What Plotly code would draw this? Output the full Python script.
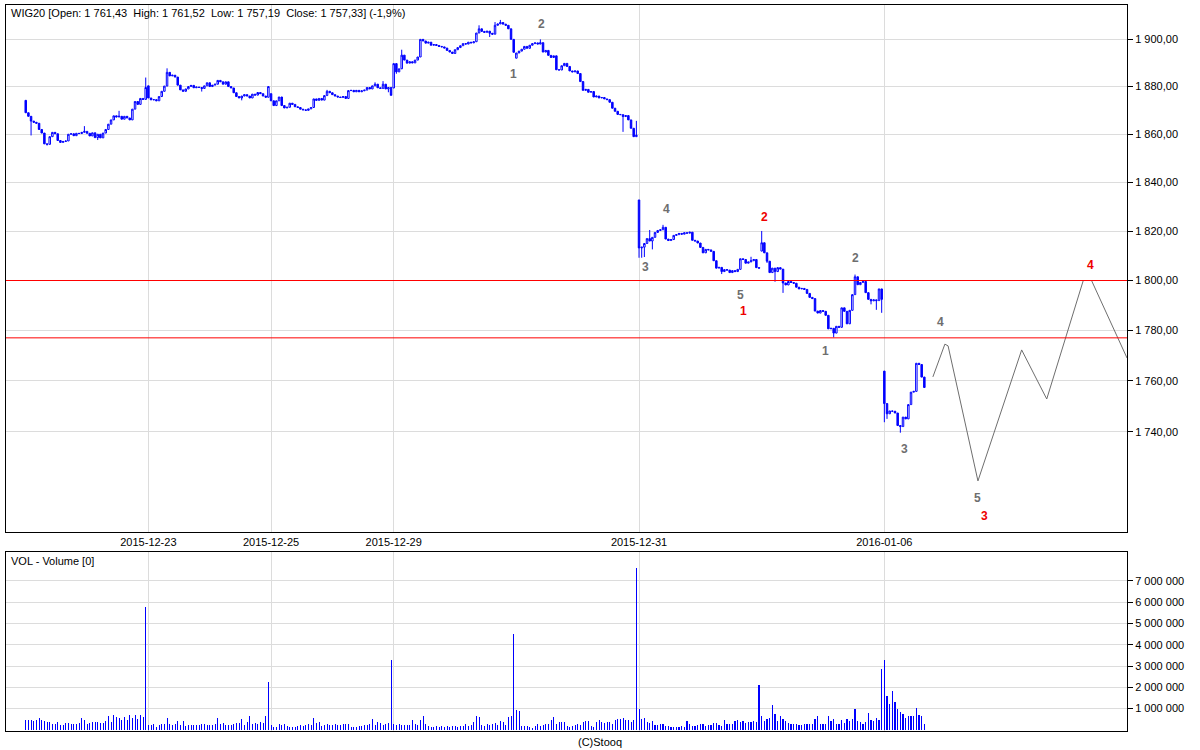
import math
import plotly.graph_objects as go

# ---------------- data ----------------
DAY_LEN = 46          # 10-minute bars per session
FIRST_SLOT = 7        # slot of the very first bar on the x scale
X_SLOTS = 420         # slots visible on the x axis

date_labels = ["2015-12-23", "2015-12-25", "2015-12-29", "2015-12-31", "2016-01-06"]
date_label_days = [1, 2, 3, 5, 7]

day_open = [1874.2, 1880.3, 1877.0, 1879.4, 1892.0, 1832.8, 1811.9, 1763.8]

close_d1 = [1869.0, 1867.5, 1865.5, 1865.0, 1864.6, 1862.0, 1860.5, 1856.0, 1855.8, 1859.0,
            1860.8, 1860.2, 1857.4, 1856.6, 1857.0, 1857.2, 1860.0, 1860.2, 1859.4, 1860.4,
            1860.3, 1860.8, 1861.2, 1860.4, 1859.3, 1860.6, 1858.6, 1860.0, 1858.5, 1860.5,
            1862.0, 1864.2, 1866.0, 1867.7, 1867.2, 1867.5, 1866.3, 1867.5, 1866.8, 1866.0,
            1870.5, 1873.7, 1872.5, 1875.0, 1874.6, 1879.6]
close_d2 = [1875.2, 1874.4, 1874.5, 1874.0, 1875.8, 1878.0, 1880.2, 1886.0, 1884.5, 1884.8,
            1884.0, 1880.6, 1878.6, 1878.0, 1879.0, 1880.0, 1880.5, 1879.5, 1879.8, 1879.6,
            1879.2, 1880.3, 1881.6, 1880.0, 1880.6, 1881.0, 1882.6, 1882.0, 1881.0, 1882.0,
            1880.0, 1879.4, 1877.4, 1875.8, 1875.2, 1876.0, 1876.6, 1876.0, 1875.2, 1876.8,
            1876.4, 1877.5, 1877.0, 1876.0, 1875.5, 1880.0]
close_d3 = [1874.0, 1872.0, 1874.0, 1875.6, 1872.0, 1871.0, 1871.3, 1873.0, 1872.5, 1871.5,
            1871.2, 1870.5, 1870.2, 1870.0, 1870.6, 1871.2, 1874.8, 1874.2, 1875.0, 1874.3,
            1876.2, 1878.0, 1877.4, 1876.6, 1876.0, 1875.6, 1875.4, 1875.8, 1875.0, 1878.3,
            1878.4, 1877.8, 1878.4, 1877.8, 1878.2, 1878.5, 1879.6, 1879.0, 1880.3, 1881.0,
            1879.5, 1879.2, 1881.0, 1879.0, 1879.6, 1876.3]
close_d4 = [1889.7, 1886.2, 1887.5, 1893.3, 1891.2, 1889.9, 1890.5, 1890.0, 1891.2, 1892.5,
            1900.0, 1899.3, 1898.4, 1898.8, 1897.5, 1897.8, 1897.4, 1897.0, 1896.8, 1896.3,
            1895.3, 1894.6, 1894.0, 1895.6, 1896.5, 1897.3, 1898.2, 1898.0, 1898.8, 1898.5,
            1899.0, 1902.7, 1904.5, 1903.4, 1903.0, 1903.5, 1902.6, 1902.2, 1906.0, 1906.6,
            1907.2, 1906.5, 1906.0, 1904.5, 1900.0, 1894.5]
close_d5 = [1894.2, 1895.0, 1895.8, 1897.0, 1896.2, 1897.5, 1898.2, 1898.5, 1898.0, 1898.6,
            1894.6, 1895.3, 1893.2, 1892.3, 1893.0, 1887.1, 1887.0, 1888.8, 1889.8, 1888.5,
            1886.6, 1886.2, 1886.6, 1885.5, 1882.1, 1878.4, 1878.8, 1877.6, 1877.9, 1875.6,
            1876.0, 1875.2, 1875.4, 1874.8, 1874.5, 1873.4, 1870.9, 1869.6, 1868.3, 1868.2,
            1867.4, 1867.8, 1866.0, 1862.5, 1859.0, 1859.6]
close_d6 = [1813.2, 1813.5, 1815.0, 1817.0, 1816.0, 1817.5, 1819.5, 1820.3, 1820.6, 1821.6,
            1816.8, 1816.2, 1816.6, 1818.3, 1818.6, 1819.1, 1818.8, 1819.4, 1819.2, 1819.6,
            1816.3, 1816.0, 1815.2, 1813.4, 1811.2, 1812.6, 1812.4, 1811.8, 1808.0, 1805.0,
            1805.3, 1803.6, 1804.4, 1804.2, 1803.2, 1804.0, 1803.6, 1804.5, 1808.8, 1808.5,
            1807.0, 1807.5, 1808.0, 1808.5, 1805.2, 1805.0]
close_d7 = [1815.3, 1811.2, 1807.8, 1803.2, 1805.0, 1803.6, 1805.2, 1804.6, 1799.0, 1798.2,
            1799.6, 1799.2, 1798.9, 1797.3, 1796.6, 1796.8, 1796.4, 1794.8, 1793.2, 1792.7,
            1787.7, 1786.9, 1787.9, 1787.6, 1786.0, 1780.6, 1780.8, 1778.9, 1781.6, 1781.2,
            1789.0, 1787.6, 1782.6, 1788.0, 1794.3, 1801.5, 1798.3, 1799.2, 1799.6, 1795.1,
            1792.4, 1791.8, 1792.2, 1791.9, 1796.6, 1792.4]
close_d8 = [1751.0, 1747.0, 1748.1, 1748.0, 1747.3, 1742.4, 1742.0, 1745.7, 1745.0, 1750.6,
            1755.5, 1755.8, 1766.9, 1766.4, 1761.43, 1757.33]

# wick extremes beyond the candle body: (day, bar, value)
wick_high = [(0, 22, 1863.4), (0, 35, 1869.8), (0, 45, 1883.8), (1, 7, 1887.7),
             (2, 21, 1878.6), (2, 39, 1881.8), (2, 42, 1882.3), (3, 3, 1895.6),
             (3, 32, 1906.0), (3, 38, 1907.4), (3, 40, 1908.3), (4, 9, 1900.0),
             (4, 45, 1865.6), (5, 4, 1820.5), (5, 9, 1822.6), (5, 42, 1809.6),
             (6, 0, 1820.1), (6, 35, 1802.4), (7, 15, 1761.52)]
wick_low = [(0, 2, 1859.5), (0, 8, 1855.3), (0, 27, 1857.6), (1, 20, 1877.9),
            (1, 35, 1874.2), (2, 44, 1877.6), (3, 1, 1885.4), (3, 36, 1901.0),
            (4, 40, 1861.0), (5, 0, 1809.2), (5, 1, 1809.2), (5, 2, 1809.5),
            (5, 5, 1812.6), (5, 31, 1802.6), (6, 2, 1807.1), (6, 5, 1799.5),
            (6, 8, 1795.0), (6, 27, 1777.2), (6, 41, 1790.4), (6, 43, 1788.2),
            (6, 45, 1787.0), (7, 0, 1743.7), (7, 1, 1745.0), (7, 6, 1739.6),
            (7, 15, 1757.19)]

# volume in millions
vol_d1 = [0.45, 0.46, 0.45, 0.44, 0.45, 0.58, 0.45, 0.42, 0.39, 0.36, 0.28, 0.29, 0.36, 0.22, 0.25,
          0.31, 0.33, 0.26, 0.28, 0.29, 0.33, 0.55, 0.45, 0.29, 0.31, 0.36, 0.37, 0.37, 0.34, 0.33,
          0.40, 0.66, 0.37, 0.69, 0.59, 0.58, 0.48, 0.59, 0.45, 0.69, 0.56, 0.69, 0.50, 0.69, 0.62, 5.76]
vol_d2 = [0.23, 0.23, 0.26, 0.12, 0.22, 0.26, 0.29, 0.55, 0.26, 0.25, 0.26, 0.44, 0.23, 0.40, 0.17,
          0.25, 0.22, 0.22, 0.23, 0.25, 0.26, 0.28, 0.25, 0.25, 0.25, 0.29, 0.58, 0.26, 0.33, 0.25,
          0.22, 0.25, 0.28, 0.34, 0.33, 0.50, 0.25, 0.36, 0.64, 0.29, 0.34, 0.29, 0.39, 0.33, 0.65, 2.24]
vol_d3 = [0.22, 0.14, 0.14, 0.26, 0.23, 0.26, 0.17, 0.15, 0.15, 0.14, 0.17, 0.23, 0.20, 0.25, 0.29,
          0.25, 0.58, 0.34, 0.37, 0.17, 0.22, 0.26, 0.22, 0.25, 0.26, 0.23, 0.22, 0.26, 0.29, 0.26,
          0.12, 0.15, 0.14, 0.18, 0.17, 0.25, 0.23, 0.29, 0.50, 0.25, 0.36, 0.33, 0.23, 0.26, 0.34, 3.27]
vol_d4 = [0.29, 0.22, 0.29, 0.22, 0.22, 0.22, 0.22, 0.45, 0.26, 0.22, 0.48, 0.64, 0.29, 0.17, 0.15,
          0.14, 0.17, 0.14, 0.17, 0.14, 0.20, 0.15, 0.17, 0.17, 0.14, 0.17, 0.20, 0.28, 0.18, 0.25,
          0.36, 0.67, 0.61, 0.22, 0.20, 0.26, 0.22, 0.29, 0.34, 0.23, 0.40, 0.36, 0.25, 0.61, 0.66, 4.48]
vol_d5 = [0.92, 0.87, 0.17, 0.17, 0.17, 0.12, 0.11, 0.17, 0.26, 0.17, 0.23, 0.26, 0.29, 0.45, 0.59,
          0.29, 0.36, 0.36, 0.36, 0.17, 0.14, 0.17, 0.23, 0.26, 0.23, 0.37, 0.42, 0.40, 0.17, 0.14,
          0.36, 0.45, 0.37, 0.34, 0.37, 0.37, 0.29, 0.45, 0.50, 0.50, 0.56, 0.45, 0.48, 0.37, 0.48, 7.58]
vol_d6 = [1.00, 0.50, 0.58, 0.39, 0.33, 0.40, 0.25, 0.25, 0.28, 0.26, 0.20, 0.18, 0.15, 0.15, 0.14,
          0.15, 0.17, 0.14, 0.44, 0.26, 0.17, 0.17, 0.23, 0.26, 0.29, 0.17, 0.22, 0.25, 0.33, 0.33,
          0.25, 0.17, 0.48, 0.29, 0.29, 0.28, 0.44, 0.47, 0.37, 0.40, 0.33, 0.37, 0.36, 0.40, 0.36, 2.10]
vol_d7 = [0.64, 0.42, 0.50, 0.58, 1.16, 0.73, 0.40, 0.64, 0.50, 0.40, 0.33, 0.29, 0.29, 0.29, 0.25,
          0.22, 0.26, 0.26, 0.29, 0.26, 0.53, 0.67, 0.26, 0.29, 0.26, 0.64, 0.40, 0.53, 0.29, 0.29,
          0.48, 0.33, 0.50, 0.40, 0.50, 0.97, 0.40, 0.36, 0.26, 0.36, 0.78, 0.45, 0.40, 0.58, 0.45, 2.85]
vol_d8 = [3.27, 1.60, 1.20, 1.81, 1.30, 0.97, 0.83, 0.73, 0.56, 0.64, 0.64, 0.64, 1.01, 0.69, 0.64, 0.26]

# hand-drawn wave projection (slot, price)
proj_slot = [347.2, 351.7, 352.9, 364.1, 380.5, 389.9, 403.6, 406.7, 420.0]
proj_price = [1761.5, 1774.5, 1773.8, 1720.9, 1772.2, 1752.8, 1800.0, 1800.0, 1769.0]

# Elliott wave labels: (text, slot, price, kind)
wave_labels = [("1", 189.8, 1885.2, "g"), ("2", 200.5, 1906.4, "g"), ("3", 239.5, 1805.6, "g"),
               ("4", 247.4, 1829.1, "g"), ("5", 275.2, 1794.2, "g"), ("1", 276.1, 1787.8, "r"),
               ("2", 284.2, 1825.9, "r"), ("1", 306.8, 1771.9, "g"), ("2", 318.0, 1809.2, "g"),
               ("3", 336.7, 1733.2, "g"), ("4", 350.1, 1783.4, "g"), ("5", 364.0, 1714.2, "g"),
               ("3", 366.7, 1707.5, "r"), ("4", 406.3, 1806.3, "r")]

level_lines = [1800.0, 1777.0]
price_ticks = [1740, 1760, 1780, 1800, 1820, 1840, 1860, 1880, 1900]
vol_ticks = [1, 2, 3, 4, 5, 6, 7]

# ---------------- build series ----------------
closes_by_day = [close_d1, close_d2, close_d3, close_d4, close_d5, close_d6, close_d7, close_d8]
vols_by_day = [vol_d1, vol_d2, vol_d3, vol_d4, vol_d5, vol_d6, vol_d7, vol_d8]

xs, o, h, l, c, vx, vy = [], [], [], [], [], [], []
hi_map = {(d, b): v for d, b, v in wick_high}
lo_map = {(d, b): v for d, b, v in wick_low}
for d, closes in enumerate(closes_by_day):
    prev = day_open[d]
    for b, cl in enumerate(closes):
        slot = FIRST_SLOT + d * DAY_LEN + b
        xs.append(slot)
        o.append(prev)
        c.append(cl)
        h.append(max(prev, cl, hi_map.get((d, b), 0)))
        l.append(min(prev, cl, lo_map.get((d, b), 1e9)))
        prev = cl
for d, vols in enumerate(vols_by_day):
    for b, v in enumerate(vols):
        vx.append(FIRST_SLOT + d * DAY_LEN + b)
        vy.append(v)

def fmt_num(v, dec):
    s = f"{v:,.{dec}f}".replace(",", " ").replace(".", ",")
    return s

BLUE = "#0000ff"
GRID = "#dcdcdc"
FONT = "Liberation Sans"

fig = go.Figure()
fig.add_trace(go.Candlestick(
    x=xs, open=o, high=h, low=l, close=c,
    increasing=dict(line=dict(color=BLUE, width=1), fillcolor="#ffffff"),
    decreasing=dict(line=dict(color=BLUE, width=1), fillcolor=BLUE),
    whiskerwidth=0, xaxis="x", yaxis="y", hoverinfo="skip", showlegend=False))
fig.add_trace(go.Scatter(
    x=proj_slot, y=proj_price, mode="lines", line=dict(color="#6e6e6e", width=1),
    xaxis="x", yaxis="y", hoverinfo="skip", showlegend=False))
fig.add_trace(go.Bar(
    x=vx, y=vy, width=0.4, marker=dict(color=BLUE, line=dict(width=0)),
    xaxis="x2", yaxis="y2", hoverinfo="skip", showlegend=False))

for lv in level_lines:
    fig.add_shape(type="line", xref="paper", x0=0, x1=1, yref="y", y0=lv, y1=lv,
                  line=dict(color="#ff0000", width=1), layer="above")

for txt, sx, py, kind in wave_labels:
    fig.add_annotation(x=sx, y=math.log10(py), xref="x", yref="y", text=f"<b>{txt}</b>",
                       showarrow=False, font=dict(family=FONT, size=12,
                                                  color="#ee0000" if kind == "r" else "#6e6e6e"))

tick_slots = [FIRST_SLOT + d * DAY_LEN for d in date_label_days]

W, H = 1200, 750
ML, MR, MT, MB = 6, 73, 5, 19
ph = H - MT - MB
main_bottom_px, vol_top_px = 532, 552
main_dom = [(H - MB - main_bottom_px) / ph, 1]
vol_dom = [0, (H - MB - vol_top_px) / ph]

fig.update_layout(
    width=W, height=H, margin=dict(l=ML, r=MR, t=MT, b=MB),
    paper_bgcolor="white", plot_bgcolor="white", hovermode=False,
    font=dict(family=FONT, size=11, color="black"),
    bargap=0, boxgap=0.2,
    xaxis=dict(domain=[0, 1], range=[-0.4, X_SLOTS], anchor="y",
               tickvals=tick_slots, ticktext=date_labels, ticks="", showgrid=True,
               gridcolor=GRID, gridwidth=1, zeroline=False, showline=True, mirror=True,
               linecolor="black", linewidth=1, rangeslider=dict(visible=False),
               tickfont=dict(family=FONT, size=11, color="black")),
    yaxis=dict(domain=main_dom, type="log", side="right", anchor="x",
               range=[math.log10(1701.3), math.log10(1914.7)],
               tickvals=price_ticks, ticktext=[fmt_num(v, 2) for v in price_ticks],
               ticks="outside", ticklen=5, tickcolor="black", showgrid=True, gridcolor=GRID,
               zeroline=False, showline=True, mirror=True, linecolor="black", linewidth=1,
               tickfont=dict(family=FONT, size=11, color="black")),
    xaxis2=dict(domain=[0, 1], range=[-0.4, X_SLOTS], anchor="y2", matches="x",
                tickvals=tick_slots, showticklabels=False, ticks="", showgrid=True,
                gridcolor=GRID, zeroline=False, showline=True, mirror=True,
                linecolor="black", linewidth=1, rangeslider=dict(visible=False)),
    yaxis2=dict(domain=vol_dom, side="right", anchor="x2", range=[-0.05, 8.35],
                tickvals=vol_ticks, ticktext=[fmt_num(v * 1_000_000, 0) for v in vol_ticks],
                ticks="outside", ticklen=5, tickcolor="black", showgrid=True, gridcolor=GRID,
                zeroline=False, showline=True, mirror=True, linecolor="black", linewidth=1,
                tickfont=dict(family=FONT, size=11, color="black")),
)

def px_to_paper(x, y):
    return (x - ML) / (W - ML - MR), (H - MB - y) / ph

tx, ty = px_to_paper(9, 13)
fig.add_annotation(x=tx, y=ty, xref="paper", yref="paper", xanchor="left", yanchor="middle",
                   showarrow=False,
                   text="WIG20 [Open: 1 761,43&nbsp; High: 1 761,52&nbsp; Low: 1 757,19&nbsp; Close: 1 757,33] (-1,9%)",
                   font=dict(family=FONT, size=11, color="black"))
vx0, vy0 = px_to_paper(9, 561)
fig.add_annotation(x=vx0, y=vy0, xref="paper", yref="paper", xanchor="left", yanchor="middle",
                   showarrow=False, text="VOL - Volume [0]",
                   font=dict(family=FONT, size=11, color="black"))
cx, cy = px_to_paper(600, 742)
fig.add_annotation(x=cx, y=cy, xref="paper", yref="paper", xanchor="center", yanchor="middle",
                   showarrow=False, text="(C)Stooq", font=dict(family=FONT, size=11, color="black"))

fig.write_html("out.html", config={"displayModeBar": False, "staticPlot": True},
               post_script="document.body.style.margin='0';document.body.style.padding='0';")
